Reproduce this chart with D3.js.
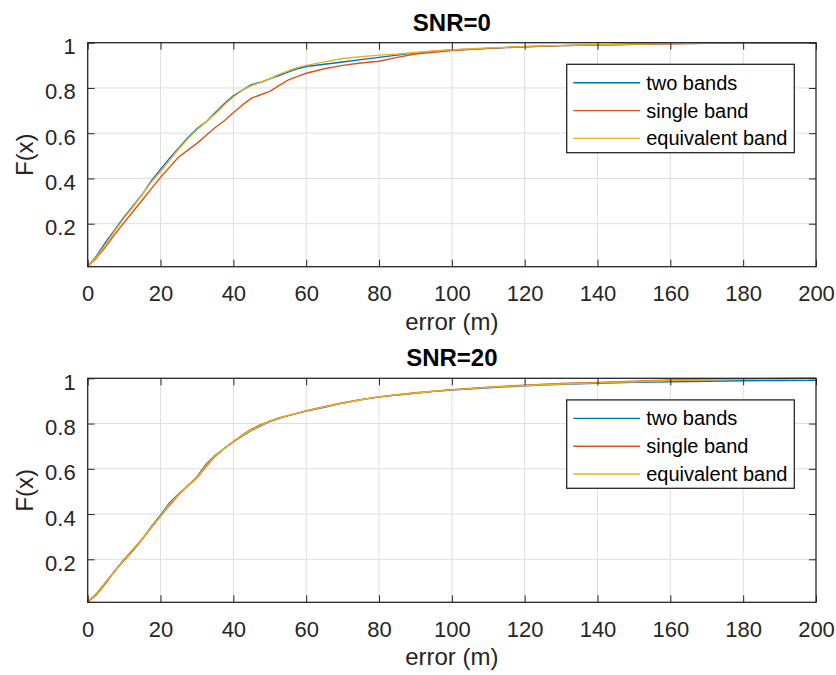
<!DOCTYPE html>
<html>
<head>
<meta charset="utf-8">
<script src="https://cdn.jsdelivr.net/npm/d3@7"></script>
<style>
  html, body { margin: 0; padding: 0; background: #fff; }
  svg { display: block; font-family: "Liberation Sans", Arial, sans-serif; }
</style>
</head>
<body>
<svg id="chart" width="836" height="675"></svg>
<script>
// ---------------- data ----------------
const seriesNames = ["two bands", "single band", "equivalent band"];
const xTicks = [0, 20, 40, 60, 80, 100, 120, 140, 160, 180, 200];
const yTicks = [0.2, 0.4, 0.6, 0.8, 1];
const yTickLabels = ["0.2", "0.4", "0.6", "0.8", "1"];
const titles = ["SNR=0", "SNR=20"];

const errX = [0, 2.5, 5, 7.5, 10, 12.5, 15, 17.5, 20, 22.5, 25, 27.5, 30, 32.5, 35, 37.5, 40, 42.5, 45, 47.5, 50, 52.5, 55, 57.5, 60, 65, 70, 75, 80, 85, 90, 95, 100, 110, 120, 130, 140, 150, 160, 170, 180, 190, 200];

// SNR = 0
const snr0TwoBands = [0.01, 0.06, 0.12, 0.175, 0.23, 0.28, 0.33, 0.39, 0.44, 0.49, 0.535, 0.58, 0.62, 0.65, 0.69, 0.73, 0.765, 0.79, 0.815, 0.825, 0.84, 0.855, 0.87, 0.885, 0.895, 0.905, 0.915, 0.925, 0.935, 0.945, 0.955, 0.962, 0.968, 0.975, 0.982, 0.987, 0.99, 0.993, 0.996, 0.997, 0.998, 0.999, 1.0];
const snr0SingleBand = [0.01, 0.05, 0.1, 0.155, 0.205, 0.255, 0.305, 0.355, 0.405, 0.45, 0.495, 0.525, 0.555, 0.59, 0.625, 0.655, 0.69, 0.725, 0.755, 0.77, 0.785, 0.81, 0.835, 0.85, 0.865, 0.885, 0.9, 0.91, 0.918, 0.935, 0.95, 0.958, 0.965, 0.975, 0.982, 0.987, 0.99, 0.993, 0.995, 0.997, 0.998, 0.999, 1.0];
const snr0Equivalent = [0.01, 0.055, 0.11, 0.17, 0.225, 0.275, 0.33, 0.385, 0.43, 0.48, 0.53, 0.575, 0.615, 0.65, 0.685, 0.725, 0.76, 0.79, 0.81, 0.825, 0.84, 0.86, 0.875, 0.89, 0.9, 0.915, 0.93, 0.938, 0.945, 0.95, 0.957, 0.963, 0.969, 0.977, 0.983, 0.988, 0.991, 0.994, 0.996, 0.998, 0.999, 1.0, 1.0];

// SNR = 20
const snr20TwoBands = [0.01, 0.05, 0.1, 0.15, 0.2, 0.245, 0.29, 0.345, 0.395, 0.45, 0.49, 0.525, 0.565, 0.62, 0.66, 0.69, 0.72, 0.745, 0.77, 0.79, 0.81, 0.825, 0.835, 0.845, 0.855, 0.872, 0.89, 0.905, 0.918, 0.926, 0.934, 0.942, 0.948, 0.958, 0.967, 0.973, 0.978, 0.982, 0.985, 0.987, 0.989, 0.99, 0.991];
const snr20SingleBand = [0.01, 0.045, 0.095, 0.15, 0.195, 0.24, 0.29, 0.34, 0.39, 0.44, 0.485, 0.525, 0.56, 0.61, 0.655, 0.69, 0.72, 0.75, 0.775, 0.795, 0.81, 0.822, 0.835, 0.845, 0.857, 0.875, 0.892, 0.906, 0.918, 0.927, 0.936, 0.943, 0.95, 0.961, 0.97, 0.977, 0.982, 0.987, 0.993, 0.995, 0.998, 0.999, 1.0];
const snr20Equivalent = [0.01, 0.05, 0.1, 0.148, 0.198, 0.245, 0.292, 0.342, 0.39, 0.445, 0.488, 0.527, 0.562, 0.615, 0.658, 0.69, 0.722, 0.748, 0.772, 0.792, 0.812, 0.824, 0.836, 0.846, 0.856, 0.874, 0.891, 0.905, 0.918, 0.927, 0.935, 0.943, 0.949, 0.96, 0.968, 0.975, 0.98, 0.985, 0.99, 0.993, 0.996, 0.998, 1.0];

const panels = [
  { title: titles[0], series: [snr0TwoBands, snr0SingleBand, snr0Equivalent] },
  { title: titles[1], series: [snr20TwoBands, snr20SingleBand, snr20Equivalent] }
];

// ---------------- layout / style ----------------
const colors = ["#0072BD", "#D95319", "#EDB120"];
const axisColor = "#262626";
const left = 87.7, right = 816;
const panelTops = [42.7, 378.3];
const plotH = 224;

const svg = d3.select("#chart");
svg.append("rect").attr("width", 836).attr("height", 675).attr("fill", "#fff");

panels.forEach((p, pi) => {
  const top = panelTops[pi], bottom = top + plotH;
  const x = d3.scaleLinear().domain([0, 200]).range([left, right]);
  const y = d3.scaleLinear().domain([0.01, 1]).range([bottom, top]);
  const g = svg.append("g");

  // background
  g.append("rect").attr("x", left).attr("y", top).attr("width", right - left).attr("height", plotH).attr("fill", "#fff");

  // grid
  g.append("g").selectAll("line").data(xTicks.filter(d => d > 0 && d < 200)).join("line")
    .attr("x1", d => x(d)).attr("x2", d => x(d)).attr("y1", top).attr("y2", bottom)
    .attr("stroke", "#dfdfdf").attr("stroke-width", 1);
  g.append("g").selectAll("line").data(yTicks.filter(d => d < 1)).join("line")
    .attr("y1", d => y(d)).attr("y2", d => y(d)).attr("x1", left).attr("x2", right)
    .attr("stroke", "#dfdfdf").attr("stroke-width", 1);

  // lines
  const line = d3.line().x((d, i) => x(errX[i])).y(d => y(d));
  p.series.forEach((s, si) => {
    g.append("path").datum(s).attr("d", line)
      .attr("fill", "none").attr("stroke", colors[si]).attr("stroke-width", 1.4)
      .attr("stroke-linejoin", "round");
  });

  // axes
  const tickLen = 7;
  const xb = g.append("g").attr("transform", `translate(0,${bottom})`)
    .call(d3.axisBottom(x).tickValues(xTicks).tickSize(-tickLen).tickSizeOuter(0).tickPadding(19));
  const xt = g.append("g").attr("transform", `translate(0,${top})`)
    .call(d3.axisTop(x).tickValues(xTicks).tickSize(-tickLen).tickSizeOuter(0).tickFormat(""));
  const yl = g.append("g").attr("transform", `translate(${left},0)`)
    .call(d3.axisLeft(y).tickValues(yTicks).tickSize(-tickLen).tickSizeOuter(0).tickPadding(12)
      .tickFormat((d, i) => yTickLabels[i]));
  const yr = g.append("g").attr("transform", `translate(${right},0)`)
    .call(d3.axisRight(y).tickValues(yTicks).tickSize(-tickLen).tickSizeOuter(0).tickFormat(""));
  [xb, xt, yl, yr].forEach(a => {
    a.select(".domain").remove();
    a.selectAll(".tick line").attr("stroke", axisColor).attr("stroke-width", 1);
    a.selectAll(".tick text").attr("fill", axisColor).style("font-size", "22px")
      .style("font-family", "'Liberation Sans', Arial, sans-serif");
  });
  yl.selectAll(".tick text").attr("dy", "0.5em");

  // box
  g.append("rect").attr("x", left).attr("y", top).attr("width", right - left).attr("height", plotH)
    .attr("fill", "none").attr("stroke", axisColor).attr("stroke-width", 1.3);

  // title
  g.append("text").attr("x", (left + right) / 2).attr("y", top - 12)
    .attr("text-anchor", "middle").attr("fill", "#000").style("font-size", "24px").style("font-weight", "bold")
    .text(p.title);

  // x label
  g.append("text").attr("x", (left + right) / 2).attr("y", bottom + 63)
    .attr("text-anchor", "middle").attr("fill", axisColor).style("font-size", "24px")
    .text("error (m)");

  // y label
  g.append("text").attr("transform", `translate(33,${(top + bottom) / 2}) rotate(-90)`)
    .attr("text-anchor", "middle").attr("fill", axisColor).style("font-size", "24px")
    .text("F(x)");

  // legend
  const lgX = 566.7, lgY = top + 21.6, lgW = 227.6, lgH = 88.4;
  const lg = g.append("g");
  lg.append("rect").attr("x", lgX).attr("y", lgY).attr("width", lgW).attr("height", lgH)
    .attr("fill", "#fff").attr("stroke", axisColor).attr("stroke-width", 1.3);
  seriesNames.forEach((name, si) => {
    const cy = lgY + 18.5 + si * 27.8;
    lg.append("line").attr("x1", lgX + 6.5).attr("x2", lgX + 73.5).attr("y1", cy).attr("y2", cy)
      .attr("stroke", colors[si]).attr("stroke-width", 1.4);
    lg.append("text").attr("x", lgX + 79.5).attr("y", cy).attr("dy", "0.35em")
      .attr("fill", "#000").style("font-size", "20px").text(name);
  });
});
</script>
</body>
</html>
